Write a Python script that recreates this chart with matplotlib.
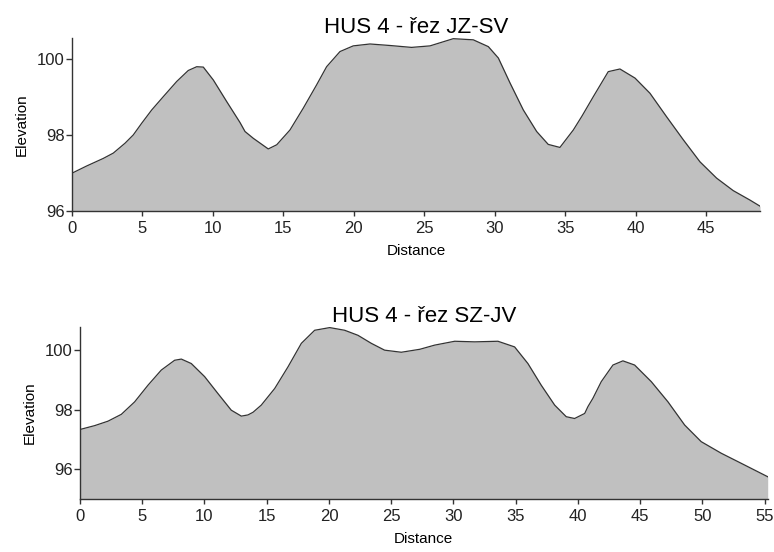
import matplotlib
matplotlib.use("Agg")
import matplotlib.pyplot as plt

plt.rcParams['font.family'] = ['Liberation Sans', 'DejaVu Sans']

# Profile 1: HUS 4 - řez JZ-SV
dist1 = [0, 1.04, 2.22, 2.93, 3.76, 4.35, 4.95, 5.66, 6.48, 7.43, 8.25, 8.85,
         9.32, 10.03, 10.98, 11.92, 12.28, 12.87, 13.93, 14.53, 15.47, 16.42,
         17.36, 18.07, 19.02, 19.96, 21.15, 22.57, 24.1, 25.41, 27.06, 28.48,
         29.55, 30.26, 31.09, 32.03, 32.98, 33.80, 34.63, 35.58, 36.2, 37.0,
         38.06, 38.89, 39.96, 41.02, 42.2, 43.39, 44.57, 45.75, 46.93, 48.12,
         48.83]
elev1 = [96.99, 97.18, 97.38, 97.52, 97.78, 98.0, 98.31, 98.66, 99.01, 99.41,
         99.70, 99.80, 99.79, 99.45, 98.88, 98.33, 98.09, 97.91, 97.63, 97.74,
         98.13, 98.71, 99.32, 99.80, 100.20, 100.35, 100.40, 100.36, 100.31,
         100.35, 100.54, 100.51, 100.33, 100.03, 99.37, 98.66, 98.09, 97.75,
         97.67, 98.13, 98.5, 99.01, 99.67, 99.74, 99.50, 99.10, 98.48, 97.87,
         97.29, 96.86, 96.53, 96.28, 96.12]

# Profile 2: HUS 4 - řez SZ-JV
dist2 = [0, 1.18, 2.25, 3.32, 4.39, 5.46, 6.53, 7.6, 8.14, 8.94, 10.01, 11.08,
         12.15, 12.96, 13.49, 13.9, 14.56, 15.64, 16.71, 17.78, 18.85, 20.06,
         21.26, 22.33, 23.4, 24.47, 25.81, 27.3, 28.49, 30.1, 31.7, 33.57,
         34.91, 35.98, 37.05, 38.13, 39.06, 39.73, 40.54, 40.8, 41.2, 41.87,
         42.81, 43.61, 44.55, 45.89, 47.23, 48.57, 49.9, 51.51, 53.12, 55.24]
elev2 = [97.34, 97.47, 97.62, 97.85, 98.27, 98.83, 99.34, 99.67, 99.71, 99.56,
         99.12, 98.55, 97.99, 97.79, 97.83, 97.92, 98.16, 98.72, 99.45, 100.24,
         100.68, 100.77, 100.68, 100.51, 100.24, 100.01, 99.94, 100.04, 100.18,
         100.31, 100.29, 100.31, 100.12, 99.56, 98.83, 98.16, 97.77, 97.71,
         97.88, 98.11, 98.39, 98.95, 99.51, 99.65, 99.51, 98.95, 98.27, 97.49,
         96.93, 96.54, 96.2, 95.75]

titles = ["HUS 4 - řez JZ-SV", "HUS 4 - řez SZ-JV"]
xticks1 = [0, 5, 10, 15, 20, 25, 30, 35, 40, 45]
xticks2 = [0, 5, 10, 15, 20, 25, 30, 35, 40, 45, 50, 55]
yticks = [96, 98, 100]

W, H = 774, 552
fig = plt.figure(figsize=(W / 100, H / 100), dpi=100)

def px_axes(l, t, r, b):
    return fig.add_axes([l / W, 1 - b / H, (r - l) / W, (b - t) / H])

ax1 = px_axes(72, 38.3, 760, 210.7)
ax2 = px_axes(80, 326.7, 767.7, 499)

specs = [
    (ax1, dist1, elev1, titles[0], xticks1, (96, 100.55)),
    (ax2, dist2, elev2, titles[1], xticks2, (95, 100.8)),
]

for ax, d, e, title, xt, ylim in specs:
    ax.fill_between(d, e, ylim[0], color='#c0c0c0', linewidth=0)
    ax.plot(d, e, color='#333333', linewidth=0.9, solid_joinstyle='round')
    ax.set_xlim(d[0], d[-1])
    ax.set_ylim(*ylim)
    ax.set_xticks(xt)
    ax.set_yticks(yticks)
    for s in ['top', 'right']:
        ax.spines[s].set_visible(False)
    for s in ['left', 'bottom']:
        ax.spines[s].set_color('#333333')
        ax.spines[s].set_linewidth(1.0)
    ax.tick_params(axis='x', length=3.6, width=1.0, pad=3.5, labelsize=12,
                   color='#333333', labelcolor='#222222')
    ax.tick_params(axis='y', length=4.3, width=1.0, pad=1, labelsize=12,
                   color='#333333', labelcolor='#222222')
    ax.set_title(title, fontsize=16, pad=3.5)
    ax.set_xlabel('Distance', fontsize=11, labelpad=6)
    ax.set_ylabel('Elevation', fontsize=11, labelpad=6)

fig.savefig('out.png', dpi=100)
